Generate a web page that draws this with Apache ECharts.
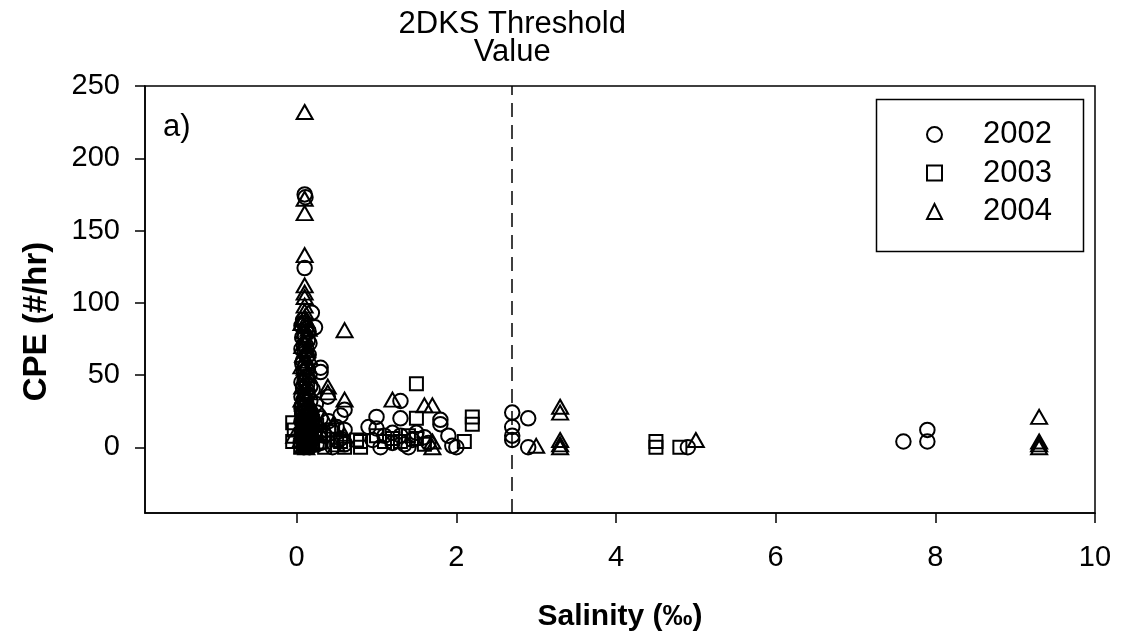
<!DOCTYPE html>
<html>
<head>
<meta charset="utf-8">
<script src="https://cdn.jsdelivr.net/npm/echarts@6/dist/echarts.min.js"></script>
<style>
html,body{margin:0;padding:0;background:#fff;}
#chart{width:1127px;height:639px;}
</style>
</head>
<body>
<div id="chart"></div>
<script>
// Salinity (‰), CPE (#/hr)
const data2002 = [
  [0.1,175],[0.11,173],[0.1,124],[0.19,93],[0.08,88],[0.23,83],[0.3,55],[0.3,52],
  [0.39,35],[0.6,26],[0.55,22],[0.25,24],[0.3,20],[0.4,18],[0.5,14],[0.6,12],
  [0.35,8],[0.55,6],[0.3,3],[0.6,2],[0.45,0],
  [0.08,86],[0.12,82],[0.1,78],[0.14,74],[0.09,71],[0.12,68],[0.1,65],[0.13,63],
  [0.08,60],[0.11,57],[0.14,54],[0.09,52],[0.12,49],[0.1,46],[0.13,43],[0.08,41],
  [0.11,38],[0.14,36],[0.09,33],[0.12,31],[0.1,28],[0.16,26],[0.07,24],[0.12,22],
  [0.1,19],[0.15,17],[0.08,15],[0.12,13],[0.1,11],[0.17,9],[0.08,7],[0.13,5],
  [0.1,3],[0.15,2],[0.09,0],[0.18,20],[0.2,15],[0.22,10],[0.18,4],[0.24,30],
  [0.2,40],[0.22,8],[0.25,2],
  [0.06,84],[0.15,80],[0.07,76],[0.16,72],[0.06,68],[0.15,64],[0.07,58],[0.16,50],
  [0.06,45],[0.17,42],[0.06,35],[0.17,32],[0.06,27],[0.18,24],[0.06,18],[0.17,13],
  [0.06,9],[0.18,7],[0.05,3],[0.16,0],
  [0.9,14],[1.0,21],[1.0,13],[0.95,5],[1.05,0],[1.1,8],[1.2,3],[1.3,32],[1.3,20],
  [1.3,8],[1.35,2],[1.45,5],[1.5,10],[1.6,7],[1.65,3],[1.8,19],[1.8,16],[1.9,8],
  [1.95,1],[2.0,0],[1.4,0],[1.2,10],
  [2.7,24],[2.7,14],[2.7,8],[2.7,5],[2.9,20],[2.9,0],[4.9,0],[7.6,4],[7.9,12],[7.9,4]
];
const data2003 = [
  [0.1,28],[0.12,24],[0.08,21],[0.1,18],[0.13,15],[0.09,13],[0.11,10],[0.14,7],
  [0.08,5],[0.1,2],[0.12,0],[-0.05,17],[-0.05,4],[-0.03,12],[0.18,11],[0.2,3],
  [0.25,15],[0.3,8],[0.35,0],[0.45,12],[0.5,5],[0.6,0],[0.8,0],[0.75,5],
  [0.06,26],[0.15,22],[0.06,9],[0.16,4],[0.05,0],
  [0.2,18],[0.3,10],[0.4,12],[0.55,4],[0.8,4],[1.0,8],[1.1,4],[1.2,6],[1.3,4],
  [1.4,8],[1.5,44],[1.5,20],[1.5,6],[1.6,2],[2.2,21],[2.2,16],[2.1,4],
  [4.5,4],[4.5,0],[4.8,0]
];
const data2004 = [
  [0.1,232],[0.1,172],[0.1,162],[0.1,133],[0.1,112],[0.1,107],[0.1,104],[0.6,81],
  [0.1,90],[0.12,85],[0.39,42],[0.39,38],[0.6,33],[1.2,33],[1.6,29],[1.7,29],
  [0.1,98],[0.1,94],[0.12,88],[0.09,80],[0.11,76],[0.1,72],[0.13,67],[0.08,64],
  [0.12,58],[0.1,55],[0.09,48],[0.13,44],[0.1,39],[0.12,34],[0.08,30],[0.11,27],
  [0.14,23],[0.09,20],[0.12,17],[0.1,13],[0.07,11],[0.13,9],[0.1,6],[0.15,4],
  [0.08,1],[0.12,0],[-0.03,8],[0.2,24],[0.25,18],[0.28,12],[0.35,20],[0.45,15],
  [0.06,86],[0.15,82],[0.07,70],[0.16,62],[0.06,56],[0.15,50],[0.07,42],[0.16,38],
  [0.06,33],[0.17,29],[0.07,22],[0.16,15],[0.05,5],[0.17,2],
  [0.3,4],[0.5,2],[0.6,8],[1.7,4],[1.7,0],
  [3.0,1],[3.3,28],[3.3,24],[3.3,5],[3.3,2],[3.3,0],[5.0,5],[9.3,21],[9.3,4],[9.3,2],[9.3,0]
];
const seriesNames = ['2002','2003','2004'];
const xTicks = [0,2,4,6,8,10];
const yTicks = [0,50,100,150,200,250];
const threshold = 2.7;

const FONT = 'Liberation Sans, Arial, sans-serif';
const chart = echarts.init(document.getElementById('chart'), null, {renderer:'canvas'});
const markerStyle = {color:'rgba(0,0,0,0)', borderColor:'#000', borderWidth:2, opacity:1};

chart.setOption({
  animation:false,
  backgroundColor:'#fff',
  grid:{left:145, right:32, top:86, bottom:126, show:true, borderColor:'#000', borderWidth:1.5, backgroundColor:'transparent'},
  xAxis:{
    type:'value', min:-1.9, max:10,
    name:'Salinity (‰)', nameLocation:'middle', nameGap:89,
    nameTextStyle:{fontFamily:FONT, fontSize:30, fontWeight:'bold', color:'#000'},
    axisLine:{show:true, onZero:false, lineStyle:{color:'#000', width:1.5}},
    axisTick:{show:true, inside:false, length:10, lineStyle:{color:'#000', width:1.5}, customValues:xTicks},
    axisLabel:{fontFamily:FONT, fontSize:29, color:'#000', margin:30, customValues:xTicks},
    splitLine:{show:false}
  },
  yAxis:{
    type:'value', min:-45.5, max:250,
    name:'CPE (#/hr)', nameLocation:'middle', nameGap:92, nameRotate:90,
    nameTextStyle:{fontFamily:FONT, fontSize:33, fontWeight:'bold', color:'#000', padding:[0,44,0,0]},
    axisLine:{show:true, onZero:false, lineStyle:{color:'#000', width:1.5}},
    axisTick:{show:true, inside:false, length:10, lineStyle:{color:'#000', width:1.5}, customValues:yTicks},
    axisLabel:{fontFamily:FONT, fontSize:29, color:'#000', margin:25, customValues:yTicks},
    splitLine:{show:false}
  },
  legend:{
    orient:'vertical', left:921, top:114,
    itemWidth:15, itemHeight:15, itemGap:7.5,
    textStyle:{fontFamily:FONT, fontSize:31, color:'#000', lineHeight:31, padding:[0,0,0,36]},
    data:seriesNames
  },
  graphic:[
    {type:'rect', left:874, top:97, shape:{width:207, height:152}, style:{fill:'none', stroke:'#000', lineWidth:1.5}, z:10},
    {type:'text', left:163, top:112, style:{text:'a)', fontFamily:FONT, fontSize:31, fill:'#000'}, z:10}
  ],
  series:[
    {name:seriesNames[0], type:'scatter', symbol:'circle', symbolSize:14.5, data:data2002, itemStyle:markerStyle,
     markLine:{silent:true, symbol:['none','none'], animation:false,
       lineStyle:{color:'#000', width:1.5, type:[14,8]},
       label:{show:true, position:'end', formatter:'2DKS Threshold\nValue', fontFamily:FONT, fontSize:31, lineHeight:28, color:'#000', distance:20},
       data:[{xAxis:threshold}]}},
    {name:seriesNames[1], type:'scatter', symbol:'rect', symbolSize:13, data:data2003, itemStyle:markerStyle},
    {name:seriesNames[2], type:'scatter', symbol:'triangle', symbolSize:[16,14], data:data2004, itemStyle:markerStyle}
  ]
});
</script>
</body>
</html>
